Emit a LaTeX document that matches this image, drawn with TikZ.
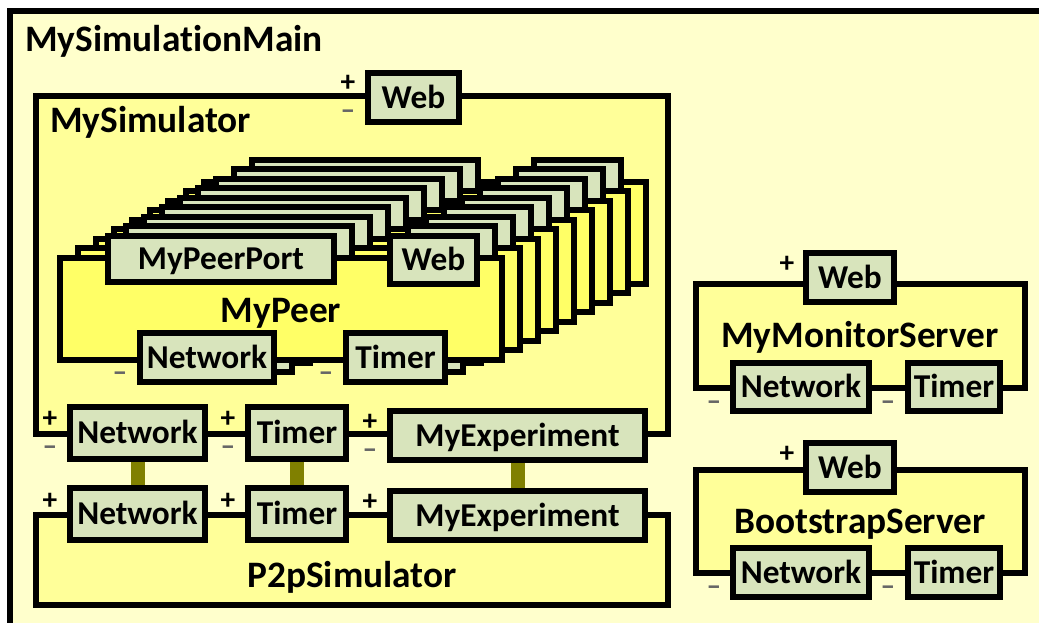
\documentclass[tikz,border=0pt]{standalone}
\usepackage{fontspec}
\setmainfont{Carlito}[Ligatures=NoCommon]
\usetikzlibrary{fit}
\definecolor{outerfill}{HTML}{FFFFCC}
\definecolor{boxfill}{HTML}{FFFF99}
\definecolor{peerfill}{HTML}{FFFF66}
\definecolor{portfill}{HTML}{D8E4BC}
\definecolor{barcol}{HTML}{808000}
\newcommand\portfont{\fontsize{25pt}{30pt}\selectfont\bfseries}
\newcommand\signfont{\fontsize{22pt}{26pt}\selectfont\bfseries}
\newcommand\lblfont{\fontsize{28pt}{33pt}\selectfont\bfseries}
\newcommand\mkport[6]{%
  \node[port, fit={(#2,#3) (#4,#5)}] (#1) {};
  \node[ptext] (#1T) at (#1.center) {#6};}
\begin{document}
\begin{tikzpicture}[x=0.75pt,y=-0.75pt,
  frame/.style={draw, line width=4.5pt, inner sep=0pt},
  container/.style={frame, fill=boxfill},
  peerbox/.style={frame, fill=peerfill},
  port/.style={frame, fill=portfill},
  ptext/.style={font=\portfont, inner sep=0pt, text height=16pt, text depth=0pt},
  lbl/.style={font=\lblfont, inner sep=0pt, anchor=base west},
  sign/.style={font=\signfont, inner sep=0pt, text height=7pt, text depth=0pt},
  plus/.style={sign},
  minus/.style={sign, text=black!60},
  bar/.style={draw=barcol, line width=10.5pt}]
\useasboundingbox (0,0) rectangle (1039,623);
\clip (0,0) rectangle (1039,623);
\fill[white] (0,0) rectangle (1039,623);
% main
\node[frame, fill=outerfill, fit={(9.5,11.5) (1100,700)}] (main) {};
\node[lbl] (mainlbl) at (25,52) {MySimulationMain};
% MySimulator
\node[container, fit={(35.5,96) (668,434)}] (sim) {};
\node[lbl] (simlbl) at (50,133) {MySimulator};
\mkport{simWeb}{368}{73}{459}{122}{Web}
\node[plus] (simWebP) at ([shift={(-17,-11)}]simWeb.west) {+};
\node[minus] (simWebM) at ([shift={(-17,17)}]simWeb.west) {–};
% stack of peers
\foreach \k in {8,7,...,1} {
  \pgfmathsetmacro\dx{18*\k}
  \pgfmathsetmacro\dy{-9.5*\k}
  \node[peerbox, fit={({60+\dx},{258+\dy}) ({502+\dx},{360+\dy})}] (peer\k) {};
  \node[port, fit={({108+\dx},{236+\dy}) ({334+\dx},{282+\dy})}] (peerPort\k) {};
  \node[port, fit={({390+\dx},{236+\dy}) ({477+\dx},{284+\dy})}] (peerWeb\k) {};
  \node[port, fit={({140+\dx},{333+\dy}) ({274+\dx},{382+\dy})}] (peerNet\k) {};
  \node[port, fit={({346+\dx},{333+\dy}) ({445+\dx},{382+\dy})}] (peerTimer\k) {};
}
\node[peerbox, fit={(60,258) (502,360)}] (peer) {};
\node[lbl, anchor=base] (peerlbl) at (281,323) {MyPeer};
\mkport{peerPort}{108}{236}{334}{282}{MyPeerPort}
\mkport{peerWeb}{390}{236}{477}{284}{Web}
\mkport{peerNet}{140}{333}{274}{382}{Network}
\mkport{peerTimer}{346}{333}{445}{382}{Timer}
\node[minus] (peerNetM) at ([shift={(-17,19)}]peerNet.west) {–};
\node[minus] (peerTimerM) at ([shift={(-17,19)}]peerTimer.west) {–};
% MySimulator bottom ports
\mkport{simNet}{70}{407}{205}{459}{Network}
\mkport{simTimer}{248}{407}{346}{459}{Timer}
\mkport{simExp}{390}{411}{645}{460}{MyExperiment}
\foreach \p in {simNet,simTimer,simExp} {
  \node[plus] (\p P) at ([shift={(-17,-10)}]\p.west) {+};
  \node[minus] (\p M) at ([shift={(-17,18)}]\p.west) {–};
}
% P2pSimulator
\node[container, fit={(35.5,515) (668,605)}] (p2p) {};
\node[lbl, anchor=base] (p2plbl) at (352,587) {P2pSimulator};
\mkport{p2pNet}{70}{488}{205}{540}{Network}
\mkport{p2pTimer}{248}{488}{346}{540}{Timer}
\mkport{p2pExp}{390}{491}{645}{540}{MyExperiment}
\foreach \p in {p2pNet,p2pTimer,p2pExp} {
  \node[plus] (\p P) at ([shift={(-17,-9.5)}]\p.west) {+};
}
% connectors
\draw[bar] (simNet.south) -- (p2pNet.north);
\draw[bar] (simTimer.south) -- (p2pTimer.north);
\draw[bar] (simExp.south) -- (p2pExp.north);
% MyMonitorServer
\node[container, fit={(696,284) (1025,388)}] (mon) {};
\node[lbl, anchor=base] (monlbl) at (860,348) {MyMonitorServer};
\mkport{monWeb}{806}{253}{894}{302}{Web}
\mkport{monNet}{733}{363}{869}{411}{Network}
\mkport{monTimer}{908}{363}{1000}{411}{Timer}
\node[plus] (monWebP) at ([shift={(-16,-10)}]monWeb.west) {+};
\node[minus] (monNetM) at ([shift={(-16,18.5)}]monNet.west) {–};
\node[minus] (monTimerM) at ([shift={(-17,18.5)}]monTimer.west) {–};
% BootstrapServer
\node[container, fit={(696,470) (1025,573)}] (boot) {};
\node[lbl, anchor=base] (bootlbl) at (860,533) {BootstrapServer};
\mkport{bootWeb}{806}{443}{894}{492}{Web}
\mkport{bootNet}{733}{548}{869}{597}{Network}
\mkport{bootTimer}{908}{548}{1000}{597}{Timer}
\node[plus] (bootWebP) at ([shift={(-16,-10)}]bootWeb.west) {+};
\node[minus] (bootNetM) at ([shift={(-16,18.5)}]bootNet.west) {–};
\node[minus] (bootTimerM) at ([shift={(-17,18.5)}]bootTimer.west) {–};
\end{tikzpicture}
\end{document}
